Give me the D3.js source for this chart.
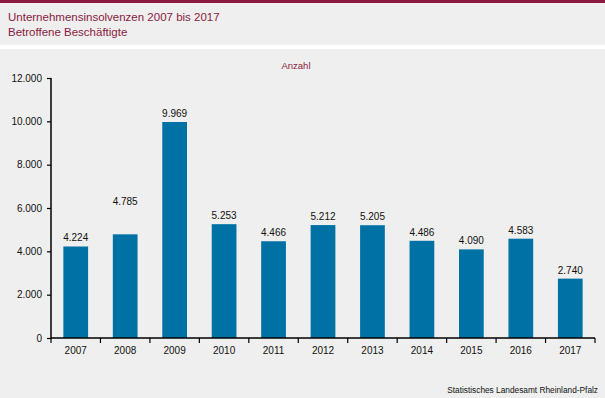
<!DOCTYPE html>
<html>
<head>
<meta charset="utf-8">
<script src="https://cdn.jsdelivr.net/npm/d3@7"></script>
<style>
  body { margin: 0; background: #ffffff; }
  svg { display: block; font-family: "Liberation Sans", Arial, sans-serif; }
</style>
</head>
<body>
<svg width="605" height="398"></svg>
<script>
// Data
const years = ["2007", "2008", "2009", "2010", "2011", "2012", "2013", "2014", "2015", "2016", "2017"];
const employees = [4224, 4785, 9969, 5253, 4466, 5212, 5205, 4486, 4090, 4583, 2740];
const yTicks = [0, 2000, 4000, 6000, 8000, 10000, 12000];

const TITLE = "Unternehmensinsolvenzen 2007 bis 2017";
const SUBTITLE = "Betroffene Beschäftigte";
const SOURCE = "Statistisches Landesamt Rheinland-Pfalz";

const BAR = "#0071a4";
const RED = "#8a1b3f";
const BG = "#eeefee";

const svg = d3.select("svg"),
    width = +svg.attr("width"),
    height = +svg.attr("height");

// German number format (dot as thousands separator)
const de = d3.formatLocale({decimal: ",", thousands: ".", grouping: [3], currency: ["", " €"]});
const fmt = de.format(",d");

// Background panels
svg.append("rect").attr("x", 0).attr("y", 0).attr("width", width).attr("height", 45).attr("fill", BG);
svg.append("rect").attr("x", 0).attr("y", 0).attr("width", width).attr("height", 3).attr("fill", RED);
svg.append("rect").attr("x", 0).attr("y", 49).attr("width", width).attr("height", height - 49).attr("fill", BG);

// Titles
svg.append("text").attr("x", 8).attr("y", 21).attr("fill", RED)
    .style("font-size", "11.5px").text(TITLE);
svg.append("text").attr("x", 8).attr("y", 36).attr("fill", RED)
    .style("font-size", "11.5px").text(SUBTITLE);

// Scales
const x = d3.scaleBand().domain(years).range([51, 595]).paddingInner(0.5).paddingOuter(0.25);
const y = d3.scaleLinear().domain([0, 12000]).range([338, 78]);

// Unit label
svg.append("text").attr("x", 296).attr("y", 69).attr("text-anchor", "middle")
    .attr("fill", RED).style("font-size", "9.5px").text("Anzahl");

// Bars
let g = svg.append("g");
g.selectAll("rect")
    .data(employees)
    .enter().append("rect")
    .attr("x", (d, i) => x(years[i]))
    .attr("y", d => y(d))
    .attr("width", x.bandwidth())
    .attr("height", d => y(0) - y(d))
    .attr("fill", BAR);

// Value labels (2008 label sits higher in the original)
g.selectAll(".val")
    .data(employees)
    .enter().append("text")
    .attr("class", "val")
    .attr("x", (d, i) => x(years[i]) + x.bandwidth() / 2)
    .attr("y", (d, i) => y(d) - 5 - (years[i] === "2008" ? 24 : 0))
    .attr("text-anchor", "middle")
    .attr("fill", "#111")
    .style("font-size", "10px")
    .text(d => fmt(d));

// Y axis
const yAxis = svg.append("g")
    .attr("transform", "translate(51,0)")
    .call(d3.axisLeft(y).tickValues(yTicks).tickSize(4).tickPadding(5).tickFormat(fmt));
yAxis.select(".domain").attr("stroke", "#000").attr("stroke-width", 1.5).attr("d", "M0,78V338");
yAxis.selectAll(".tick line").attr("stroke", "#000").attr("stroke-width", 1.2);
yAxis.selectAll("text").attr("fill", "#111").style("font-size", "10px").style("font-family", "Liberation Sans, Arial, sans-serif");

// X axis: line with ticks at band boundaries
const xAxis = svg.append("g");
xAxis.append("line").attr("x1", 51).attr("x2", 595).attr("y1", 338).attr("y2", 338)
    .attr("stroke", "#000").attr("stroke-width", 1.5);
const bounds = years.map(yr => x(yr) - x.step() * x.paddingInner() / 2).concat([595]);
xAxis.selectAll(".xt")
    .data(bounds)
    .enter().append("line")
    .attr("x1", d => d).attr("x2", d => d)
    .attr("y1", 338).attr("y2", 343)
    .attr("stroke", "#000").attr("stroke-width", 1.2);
xAxis.selectAll(".xl")
    .data(years)
    .enter().append("text")
    .attr("x", d => x(d) + x.bandwidth() / 2)
    .attr("y", 354)
    .attr("text-anchor", "middle")
    .attr("fill", "#111")
    .style("font-size", "10px")
    .text(d => d);

// Source
svg.append("text").attr("x", 598).attr("y", 393).attr("text-anchor", "end")
    .attr("fill", "#111").style("font-size", "8.3px").text(SOURCE);
</script>
</body>
</html>
